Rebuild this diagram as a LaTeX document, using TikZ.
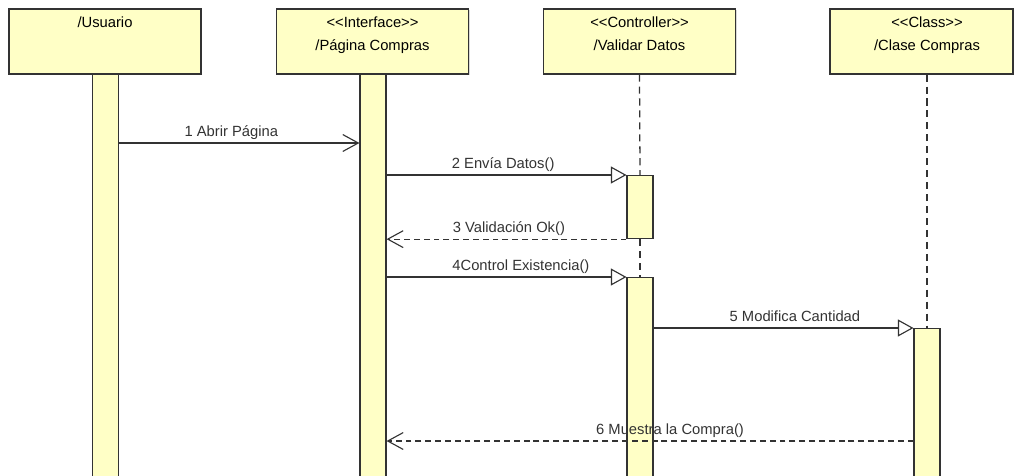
\documentclass[tikz,border=0pt]{standalone}
\usepackage{fontspec}
\setmainfont{Liberation Sans}
\usetikzlibrary{arrows.meta,shadows}
\definecolor{LifeFill}{RGB}{255,255,198}
\definecolor{LifeLine}{RGB}{51,51,51}

\begin{document}
\begin{tikzpicture}[x=0.025cm,y=-0.025cm]
	  \useasboundingbox (0,0) rectangle (1016,475);
	  \clip (0,0) rectangle (1016,475);
	  \tikzset{HeadStyle/.style = {rectangle,
	  								  draw           = LifeLine,
	  								  fill           = LifeFill,
	  								  line width     = 0.8pt,
									  inner sep      = 0pt,
	                                 minimum width  = 4.8cm,
	                                 minimum height = 1.625cm,
	                                 drop shadow    = {shadow xshift=1pt,shadow yshift=-1pt,opacity=0.3}}}

	  \tikzset{BarStyle/.style = {rectangle,
	  								  draw           = LifeLine,
	  								  fill           = LifeFill,
	  								  line width     = 0.8pt,
									  inner sep      = 0pt,
	                                 anchor         = north,
	                                 minimum width  = 0.65cm}}

	  \tikzset{HeadText/.style = {anchor = base, inner sep = 0pt,
	                                 font = \fontsize{10.5}{12}\selectfont}}
	  \tikzset{LabelStyle/.style = {anchor = base, inner sep = 0pt, yshift = 4.5pt,
	                                 font = \fontsize{10.5}{12}\selectfont}}

	  \tikzset{LifeStyle/.style  = {LifeLine, line width = 0.9pt, dash pattern = on 5pt off 3.5pt}}
	  \tikzset{CallStyle/.style  = {LifeLine, line width = 0.8pt,
	                                 -{Triangle[open,length=11pt,width=12pt,fill=white]}}}
	  \tikzset{SendStyle/.style  = {LifeLine, line width = 0.8pt,
	                                 -{Straight Barb[length=11pt,width=12pt]}}}
	  \tikzset{ReplyStyle/.style = {SendStyle, dash pattern = on 4.2pt off 2.8pt}}

	     % lifeline heads
	     \node[HeadStyle] (Usuario) at (105,41.5) {};
	     \node[HeadStyle] (Pagina)  at (372.5,41.5) {};
	     \node[HeadStyle] (Validar) at (639.5,41.5) {};
	     \node[HeadStyle, minimum width = 4.575cm] (Clase) at (921.5,41.5) {};

	     \node[HeadText] (UsuarioName) at (105,27) {/Usuario};
	     \node[HeadText] (PaginaSt)    at (372.5,27) {{<}{<}Interface{>}{>}};
	     \node[HeadText] (PaginaName)  at (372.5,50) {/Página Compras};
	     \node[HeadText] (ValidarSt)   at (639.5,27) {{<}{<}Controller{>}{>}};
	     \node[HeadText] (ValidarName) at (639.5,50) {/Validar Datos};
	     \node[HeadText] (ClaseSt)     at (927,27) {{<}{<}Class{>}{>}};
	     \node[HeadText] (ClaseName)   at (927,50) {/Clase Compras};

	     % activation bars
	     \node[BarStyle, minimum height = 10.2cm]  (UsuarioBar) at (105.5,74) {};
	     \node[BarStyle, minimum height = 10.2cm]  (PaginaBar)  at (373,74) {};
	     \node[BarStyle, minimum height = 1.575cm] (ValidarAct1) at (640,175) {};
	     \node[BarStyle, minimum height = 5.2cm]   (ValidarAct2) at (640,277) {};
	     \node[BarStyle, minimum height = 3.9cm]   (ClaseAct)    at (927,328) {};

	     % dashed lifelines
	     \draw[LifeStyle] (Validar.south) -- (ValidarAct1.north);
	     \draw[LifeStyle] (ValidarAct1.south) -- (ValidarAct2.north);
	     \draw[LifeStyle] (Clase.south -| ClaseAct.north) -- (ClaseAct.north);

	     \coordinate (m1) at (0,143);
	     \coordinate (m6) at (0,441);

	     % messages
	     \draw[SendStyle] (UsuarioBar.east |- m1) to node[LabelStyle, pos=0.467]{1 Abrir Página} (PaginaBar.west |- m1);
	     \draw[CallStyle] (PaginaBar.east |- ValidarAct1.north) to node[LabelStyle, pos=0.486]{2 Envía Datos()} (ValidarAct1.north west);
	     \draw[ReplyStyle] (ValidarAct1.south west) to node[LabelStyle, pos=0.49]{3 Validación Ok()} (PaginaBar.east |- ValidarAct1.south);
	     \draw[CallStyle] (PaginaBar.east |- ValidarAct2.north) to node[LabelStyle, pos=0.56]{4Control Existencia()} (ValidarAct2.north west);
	     \draw[CallStyle] (ValidarAct2.east |- ClaseAct.north) to node[LabelStyle, pos=0.544]{5 Modifica Cantidad} (ClaseAct.north west);
	     \draw[ReplyStyle] (ClaseAct.west |- m6) to node[LabelStyle, pos=0.462]{6 Muestra la Compra()} (PaginaBar.east |- m6);

	  \end{tikzpicture}
\end{document}
